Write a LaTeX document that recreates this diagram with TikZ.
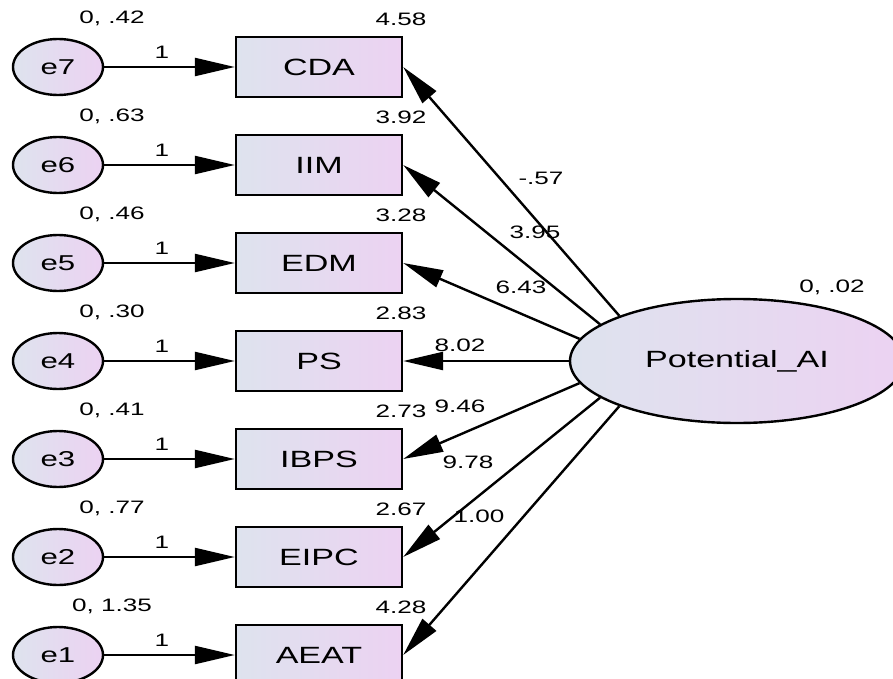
\documentclass[tikz,border=0pt]{standalone}
\usepackage{fontspec}
\setmainfont{Liberation Sans}[FakeStretch=1.45]
\usetikzlibrary{arrows.meta,shapes.geometric}

\definecolor{fillA}{RGB}{222,227,238}
\definecolor{fillB}{RGB}{236,210,242}

\tikzset{
  obs/.style={rectangle, draw, line width=2.4pt, minimum width=166pt, minimum height=60pt,
    inner sep=0pt, left color=fillA, right color=fillB, font=\fontsize{23.5}{27}\selectfont},
  err/.style={ellipse, draw, line width=2.4pt, minimum width=90pt, minimum height=56pt,
    inner sep=0pt, left color=fillA, right color=fillB, font=\fontsize{21.5}{25}\selectfont},
  lat/.style={ellipse, draw, line width=2.4pt, minimum width=334pt, minimum height=124pt,
    inner sep=0pt, left color=fillA, right color=fillB, font=\fontsize{23.5}{27}\selectfont},
  num/.style={inner sep=0pt, font=\fontsize{18}{21}\selectfont},
  reg/.style={line width=2.4pt, -{Triangle[length=40pt, width=18pt]}},
}

\begin{document}
\begin{tikzpicture}[x=1pt, y=-1pt]
\useasboundingbox (0,0) rectangle (893,679);
\clip (0,0) rectangle (893,679);

% latent factor
\node[lat] (PAI) at (737,361) {Potential\_AI};
\node[num] (vPAI) at (832,287) {0, .02};

% indicators
\node[obs] (CDA)  at (319,67)  {CDA};
\node[obs] (IIM)  at (319,165) {IIM};
\node[obs] (EDM)  at (319,263) {EDM};
\node[obs] (PS)   at (319,361) {PS};
\node[obs] (IBPS) at (319,459) {IBPS};
\node[obs] (EIPC) at (319,557) {EIPC};
\node[obs] (AEAT) at (319,655) {AEAT};

% error terms
\node[err] (e7) at (58,67)  {e7};
\node[err] (e6) at (58,165) {e6};
\node[err] (e5) at (58,263) {e5};
\node[err] (e4) at (58,361) {e4};
\node[err] (e3) at (58,459) {e3};
\node[err] (e2) at (58,557) {e2};
\node[err] (e1) at (58,655) {e1};

% error paths
\foreach \e/\b in {e7/CDA, e6/IIM, e5/EDM, e4/PS, e3/IBPS, e2/EIPC, e1/AEAT}
  \draw[reg] (\e) -- (\b);

% error variances, path weights and intercepts
\foreach \y/\v/\m in {67/{0, .42}/4.58, 165/{0, .63}/3.92, 263/{0, .46}/3.28,
    361/{0, .30}/2.83, 459/{0, .41}/2.73, 557/{0, .77}/2.67, 655/{0, 1.35}/4.28} {
  \node[num] at (112,\y-49) {\v};
  \node[num] at (162,\y-15) {1};
  \node[num] at (401,\y-48) {\m};
}

% factor loadings
\draw[reg] (PAI.159) -- (CDA.east);
\draw[reg] (PAI.165) -- (IIM.east);
\draw[reg] (PAI.172) -- (EDM.east);
\draw[reg] (PAI.180) -- (PS.east);
\draw[reg] (PAI.188) -- (IBPS.east);
\draw[reg] (PAI.195) -- (EIPC.east);
\draw[reg] (PAI.201) -- (AEAT.east);

\node[num] at (541,178) {-.57};
\node[num] at (535,232) {3.95};
\node[num] at (521,287) {6.43};
\node[num] at (460,345) {8.02};
\node[num] at (460,406) {9.46};
\node[num] at (468,462) {9.78};
\node[num] at (479,516) {1.00};
\end{tikzpicture}
\end{document}
